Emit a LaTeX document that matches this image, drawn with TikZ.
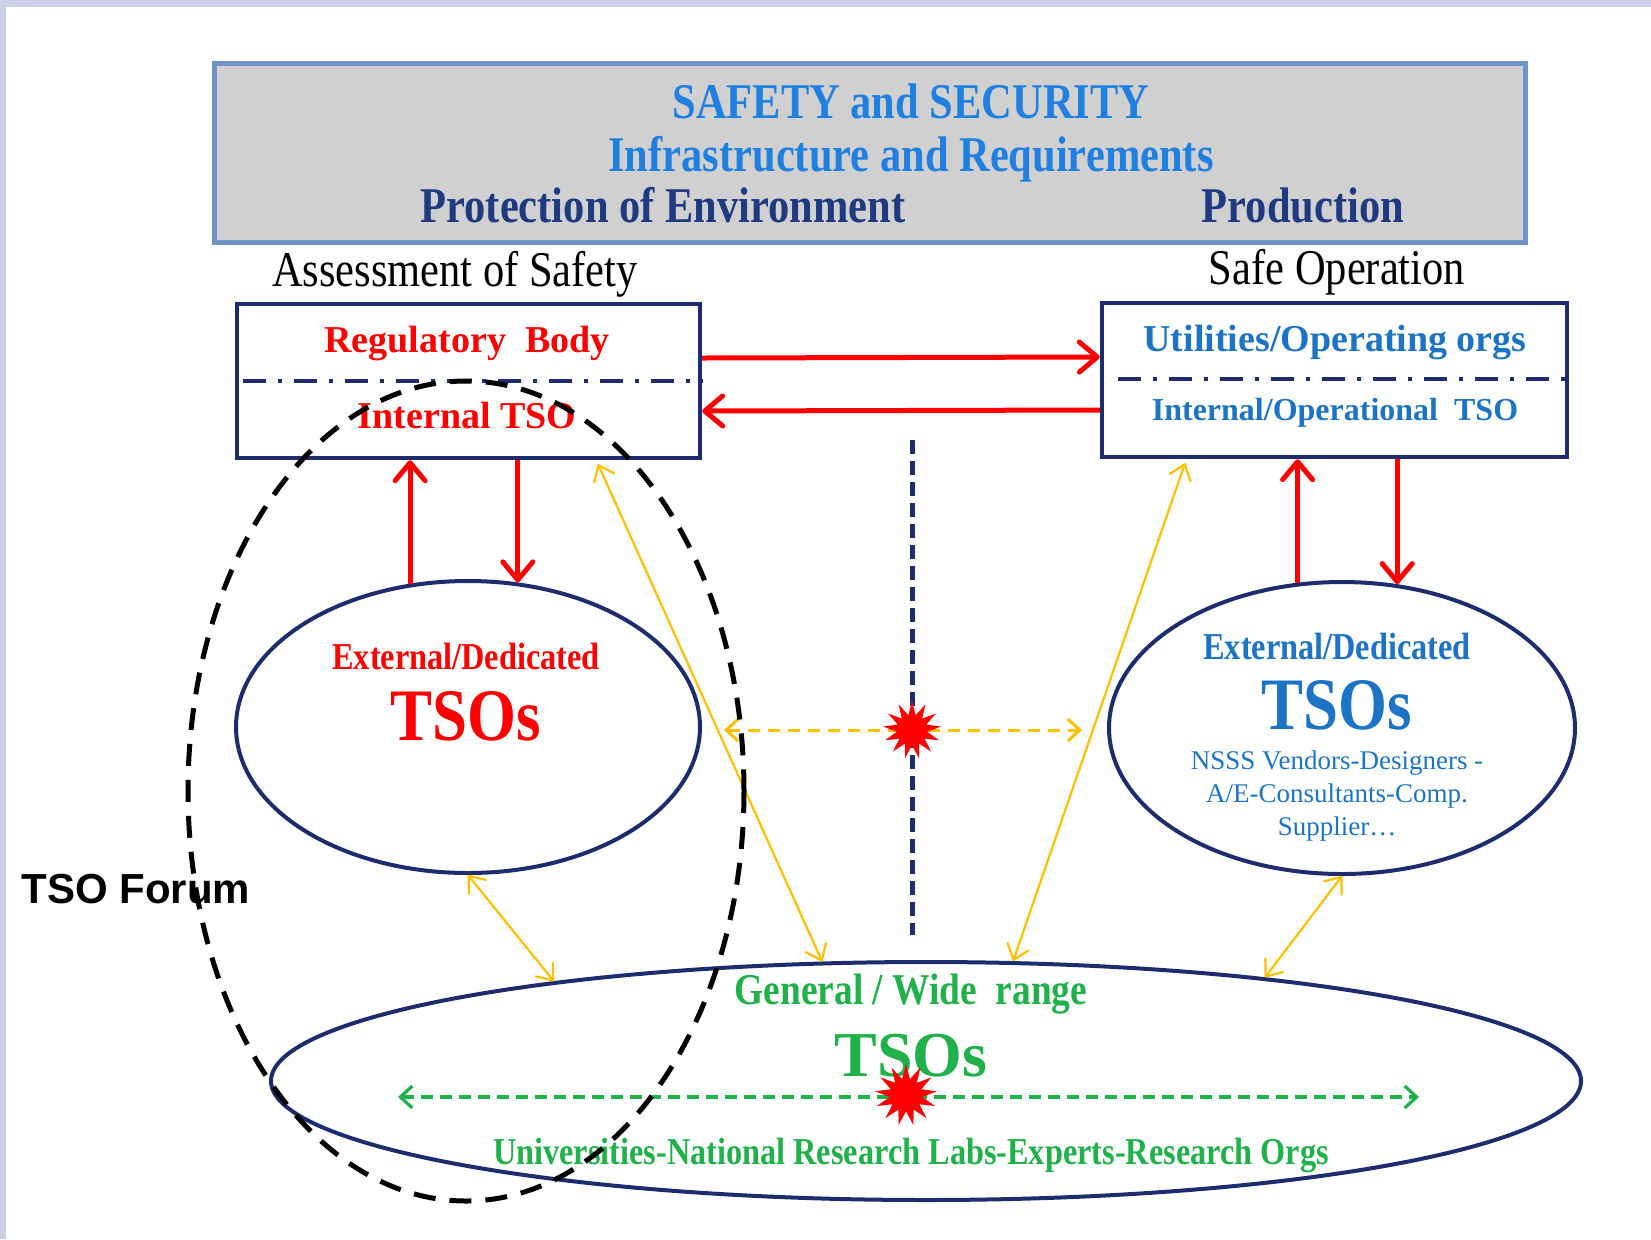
\documentclass[tikz,border=0pt]{standalone}
\usepackage{fontspec}
\setmainfont{Liberation Serif}
\newfontfamily\condfont{Liberation Serif}[FakeStretch=0.85]
\newfontfamily\forumfont{Liberation Sans}
\usetikzlibrary{arrows.meta,shapes.geometric}

\definecolor{framecol}{HTML}{CDD1E8}
\definecolor{hdrfill}{HTML}{D0D0D0}
\definecolor{hdredge}{HTML}{6F93C6}
\definecolor{hdrblue}{HTML}{2080E0}
\definecolor{navytext}{HTML}{1F3A80}
\definecolor{boxnavy}{HTML}{1C2C6C}
\definecolor{tsored}{HTML}{FF0000}
\definecolor{utilblue}{HTML}{1D74C4}
\definecolor{tsogreen}{HTML}{21B14B}
\definecolor{gold}{HTML}{FFC000}

\tikzset{
	box/.style={draw=boxnavy, line width=2.2pt, minimum height=77pt, inner sep=0pt},
	tsoellipse/.style={ellipse, draw=boxnavy, line width=2pt, inner sep=0pt},
	divider/.style={draw=boxnavy, line width=2pt, dash pattern=on 11.5pt off 6pt on 2pt off 6pt},
	redarr/.style={draw=tsored, line width=2.5pt, >={Straight Barb[length=9pt,width=15pt,round]}, ->},
	goldarr/.style={draw=gold, line width=1.1pt, >={Straight Barb[length=7pt,width=11pt,round]}, <->},
	golddash/.style={draw=gold, line width=1.5pt, dash pattern=on 6pt off 4pt, >={Straight Barb[length=6pt,width=11pt]}, <->},
	greendash/.style={draw=tsogreen, line width=1.6pt, dash pattern=on 6pt off 3.5pt, >={Straight Barb[length=6pt,width=11pt]}, <->},
	burst/.style={star, star points=13, star point ratio=1.9, fill=tsored, inner sep=0pt},
	lbl/.style={anchor=base, inner sep=0pt}
}

\begin{document}
\begin{tikzpicture}[x=0.5pt, y=-0.5pt]

	\useasboundingbox (0,0) rectangle (1651,1239);
	\fill[framecol] (0,0) rectangle (1651,1239);
	\fill[white] (6,7) rectangle (1651,1239);

	\node[draw=hdredge, fill=hdrfill, line width=2.5pt, minimum width=655.5pt, minimum height=89.5pt, inner sep=0pt] (hdr) at (869.5,152.5) {};
	\node[lbl, text=hdrblue] (h1) at (911,118) {\condfont\bfseries\fontsize{25}{30}\selectfont SAFETY and SECURITY};
	\node[lbl, text=hdrblue] (h2) at (911,171) {\condfont\bfseries\fontsize{25}{30}\selectfont Infrastructure and Requirements};
	\node[lbl, text=navytext] (h3) at (663,222) {\condfont\bfseries\fontsize{25}{30}\selectfont Protection of Environment};
	\node[lbl, text=navytext] (h4) at (1303,222) {\condfont\bfseries\fontsize{25}{30}\selectfont Production};

	\node[lbl] (assess) at (455,286) {\condfont\fontsize{25}{30}\selectfont Assessment of Safety};
	\node[lbl] (safeop) at (1337,284) {\condfont\fontsize{25}{30}\selectfont Safe Operation};

	\node[box, minimum width=231.5pt] (regbox) at (468.5,381) {};
	\node[box, minimum width=232.5pt] (utilbox) at (1334.5,380) {};
	\draw[divider] ([xshift=4pt]regbox.west) -- (regbox.east);
	\draw[divider] ([xshift=9pt,yshift=0.5pt]utilbox.west) -- ([yshift=0.5pt]utilbox.east);
	\node[lbl, text=tsored] (reg) at (467,352) {\bfseries\fontsize{19}{23}\selectfont Regulatory\ \ Body};
	\node[lbl, text=tsored] (intl) at (467,428) {\bfseries\fontsize{19}{23}\selectfont Internal TSO};
	\node[lbl, text=utilblue] (util) at (1335,351) {\bfseries\fontsize{19}{23}\selectfont Utilities/Operating orgs};
	\node[lbl, text=utilblue] (intop) at (1335,420) {\bfseries\fontsize{16}{20}\selectfont Internal/Operational\ \ TSO};

	\node[tsoellipse, minimum width=232pt, minimum height=146pt] (extL) at (468,727) {};
	\node[tsoellipse, minimum width=233pt, minimum height=146pt] (extR) at (1342,728) {};
	\node[tsoellipse, minimum width=655pt, minimum height=119pt] (gen) at (926,1081) {};

	\node[lbl, text=tsored] (extLt) at (466,669) {\condfont\bfseries\fontsize{19}{23}\selectfont External/Dedicated};
	\node[lbl, text=tsored] (extLtso) at (466,740) {\condfont\bfseries\fontsize{37}{44}\selectfont TSOs};
	\node[lbl, text=utilblue] (extRt) at (1337,659) {\condfont\bfseries\fontsize{19}{23}\selectfont External/Dedicated};
	\node[lbl, text=utilblue] (extRtso) at (1337,729) {\condfont\bfseries\fontsize{37}{44}\selectfont TSOs};
	\node[lbl, text=utilblue] (vend1) at (1337,769) {\fontsize{13.5}{16}\selectfont NSSS Vendors-Designers -};
	\node[lbl, text=utilblue] (vend2) at (1337,802) {\fontsize{13.5}{16}\selectfont A/E-Consultants-Comp.};
	\node[lbl, text=utilblue] (vend3) at (1337,835) {\fontsize{13.5}{16}\selectfont Supplier\ldots};

	\node[lbl, text=tsogreen] (gent) at (911,1004) {\condfont\bfseries\fontsize{22}{26}\selectfont General / Wide\ \ range};
	\node[lbl, text=tsogreen] (gentso) at (911,1076) {\bfseries\fontsize{32}{38}\selectfont TSOs};
	\node[lbl, text=tsogreen] (univ) at (911,1164) {\condfont\bfseries\fontsize{19}{23}\selectfont Universities-National Research Labs-Experts-Research Orgs};

	\node[anchor=base west, inner sep=0pt] (forum) at (21,903) {\forumfont\bfseries\fontsize{21}{25}\selectfont TSO Forum};

	\draw[redarr] ([yshift=11.5pt]regbox.east) -- ([yshift=11.5pt]utilbox.west);
	\draw[redarr] ([yshift=-15pt]utilbox.west) -- ([yshift=-15pt]regbox.east);
	\draw[redarr] (extL.112) -- (extL.112 |- regbox.south);
	\draw[redarr] (extL.71 |- regbox.south) -- (extL.71);
	\draw[redarr] (extR.107) -- (extR.107 |- utilbox.south);
	\draw[redarr] (extR.69 |- utilbox.south) -- (extR.69);

	\draw[goldarr] ([xshift=64.75pt,yshift=-2pt]regbox.south) -- (gen.131);
	\draw[goldarr] ([xshift=-74.75pt,yshift=-2pt]utilbox.south) -- (gen.54);
	\draw[goldarr] (extL.south) -- (gen.165);
	\draw[goldarr] (extR.south) -- (gen.17);

	\coordinate (vtop) at (912,440);
	\coordinate (vbot) at (912,935);
	\draw[draw=boxnavy, line width=2.5pt, dash pattern=on 7pt off 3.5pt] (vtop) -- (vbot);

	\coordinate (oleft) at (724,730);
	\coordinate (oright) at (1082,730);
	\draw[golddash] (oleft) -- (oright);
	\node[burst, minimum size=29pt] (star1) at (912,730) {};

	\coordinate (gleft) at (398,1097);
	\coordinate (gright) at (1419,1097);
	\draw[greendash] (gleft) -- (gright);
	\node[burst, minimum size=31pt] (star2) at (906,1095) {};

	\draw[line width=2.5pt, dash pattern=on 11pt off 7pt] (466,791) ellipse [x radius=278, y radius=410];

\end{tikzpicture}
\end{document}
